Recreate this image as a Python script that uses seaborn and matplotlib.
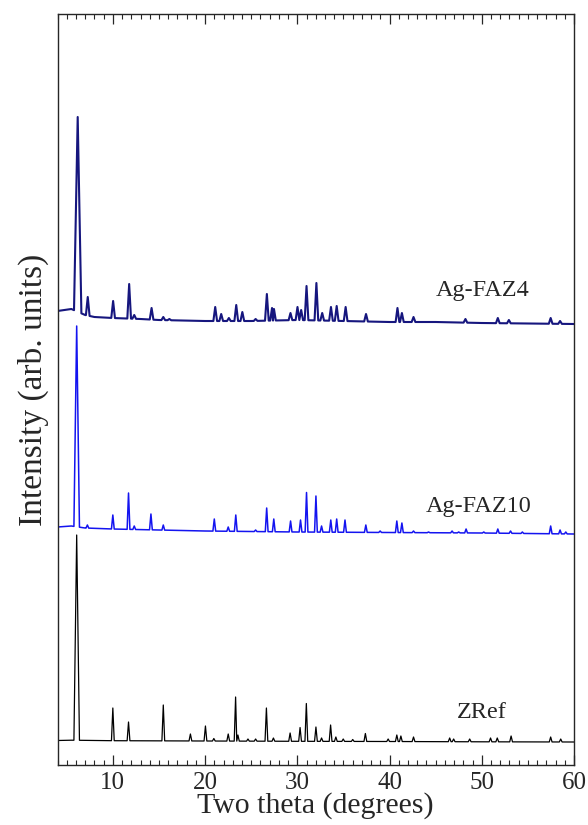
import numpy as np
import pandas as pd
import matplotlib
matplotlib.use("Agg")
import matplotlib.pyplot as plt
import seaborn as sns
from matplotlib.ticker import MultipleLocator

# peak lists: 2theta (deg), intensity (arb., absolute level of the peak top)
zref_pos = [6.08, 10.0, 11.7, 15.47, 18.41, 20.04, 20.95, 22.51, 23.31, 23.56, 24.65, 25.48,
            26.65, 27.41, 29.22, 30.3, 30.98, 32.02, 32.63, 33.61, 34.18, 34.98, 36.01, 37.38,
            39.85, 40.79, 41.23, 42.6, 46.52, 46.95, 48.69, 50.95, 51.68, 53.18, 57.47, 58.56]
zref_int = [206, 33, 19, 36, 7, 15, 2.5, 7, 44, 6, 2, 2,
            33, 3, 8, 13.5, 37.5, 14, 3, 16, 4, 2, 1.5, 7.5,
            2, 6, 5, 4, 3, 2, 2, 3, 3, 5, 4, 2]
zref_bg_x = [4, 5.5, 10, 20, 30, 40, 50, 60]
zref_bg_y = [0.5, 0.8, 0.3, 0, -0.3, -0.5, -0.8, -1]

faz10_pos = [6.08, 7.24, 10.0, 11.7, 12.32, 14.13, 15.47, 21.0, 22.51, 23.33, 25.48, 26.68,
             27.45, 29.27, 30.35, 31.0, 32.02, 32.63, 33.63, 34.27, 35.17, 37.43, 38.98, 40.79,
             41.34, 42.6, 44.23, 46.78, 47.5, 48.3, 50.22, 51.74, 53.12, 54.4, 57.47, 58.49, 59.11]
faz10_int = [208, 9, 19, 41, 8, 20, 9, 15, 7, 19, 4, 26,
             15, 13, 14, 41.5, 38, 8, 14, 15, 14, 9, 3, 13,
             11, 3, 2, 3, 2, 5, 2, 5, 3, 2, 8, 4, 2]
faz10_bg_x = [4, 5.5, 7, 10, 15, 20, 30, 40, 50, 60]
faz10_bg_y = [7, 8, 6, 5, 4, 3, 2, 1.5, 1, 0]

faz4_pos = [6.19, 7.28, 10.03, 11.77, 12.32, 14.2, 15.47, 16.13, 21.1, 21.75, 22.58, 23.38,
            24.04, 25.48, 26.7, 27.26, 27.47, 29.26, 30.02, 30.42, 31.0, 32.07, 32.7, 33.65,
            34.27, 35.24, 37.45, 40.86, 41.34, 42.6, 48.23, 51.74, 52.94, 57.47, 58.49]
faz4_int = [208, 28, 24, 41, 10, 17, 8, 6, 18, 11, 7, 20,
            13, 6, 31, 17, 16, 12, 18, 15, 39, 42, 12, 18,
            19, 18, 11, 17, 12, 8, 6, 7, 5, 7, 4]
faz4_bg_x = [4, 5.5, 7, 8, 10, 13, 15, 20, 25, 30, 35, 40, 45, 50, 55, 60]
faz4_bg_y = [14, 16, 10, 8, 7, 6, 5, 4, 4, 5, 4, 3, 3, 2, 1.5, 1]

samples = ["ZRef", "Ag-FAZ10", "Ag-FAZ4"]


def build_trace(pos, height, bg_x, bg_y, half, main_half):
    # each peak drawn as foot - top - foot on the background line
    halves = [main_half if h == max(height) else half for h in height]
    pts = []
    for i, (p, h) in enumerate(zip(pos, height)):
        left = p - halves[i]
        right = p + halves[i]
        if i > 0 and pos[i - 1] + halves[i - 1] > left:
            left = None
        if i < len(pos) - 1 and pos[i + 1] - halves[i + 1] < right:
            right = (p + pos[i + 1]) / 2
        if left is not None:
            pts.append((left, np.interp(left, bg_x, bg_y)))
        pts.append((p, h))
        pts.append((right, np.interp(right, bg_x, bg_y)))
    for bx, by in zip(bg_x, bg_y):
        inside = any(abs(bx - p) < hh for p, hh in zip(pos, halves))
        if not inside:
            pts.append((bx, by))
    pts.sort()
    return pd.DataFrame(pts, columns=["two_theta", "intensity"])


zref_df = build_trace(zref_pos, zref_int, zref_bg_x, zref_bg_y, 0.15, 0.3)
faz10_df = build_trace(faz10_pos, faz10_int, faz10_bg_x, faz10_bg_y, 0.15, 0.3)
faz4_df = build_trace(faz4_pos, faz4_int, faz4_bg_x, faz4_bg_y, 0.2, 0.4)

# vertical stacking of the patterns
zref_df["intensity"] += 24
faz10_df["intensity"] += 231
faz4_df["intensity"] += 440

sns.set_style("ticks")
plt.rcParams["font.family"] = ["Liberation Serif", "DejaVu Serif"]

fig = plt.figure(figsize=(5.88, 8.25), dpi=100)
ax = fig.add_axes([57.5 / 588, 1 - 765 / 825, (574 - 57.5) / 588, (765 - 14) / 825])

sns.lineplot(data=zref_df, x="two_theta", y="intensity", ax=ax, color="black",
             lw=0.9, estimator=None, sort=False)
sns.lineplot(data=faz10_df, x="two_theta", y="intensity", ax=ax, color="#1414f0",
             lw=1.1, estimator=None, sort=False)
sns.lineplot(data=faz4_df, x="two_theta", y="intensity", ax=ax, color="#16167e",
             lw=1.5, estimator=None, sort=False)

ax.set_xlim(4, 60)
ax.set_ylim(0, 751)

ax.text(44.96, 474.3, "Ag-FAZ4", fontsize=17.5, va="center", ha="left")
ax.text(43.95, 258.3, "Ag-FAZ10", fontsize=17.5, va="center", ha="left")
ax.text(47.32, 52, "ZRef", fontsize=17.5, va="center", ha="left")

ax.xaxis.set_major_locator(MultipleLocator(10))
ax.xaxis.set_minor_locator(MultipleLocator(1))
ax.tick_params(axis="x", which="both", direction="in", top=True, bottom=True,
               labelsize=18, pad=5)
ax.tick_params(axis="x", which="major", length=7, width=0.9)
ax.tick_params(axis="x", which="minor", length=3.5, width=0.8)
ax.tick_params(axis="y", which="both", left=False, labelleft=False)
ax.set_yticks([])
for s in ax.spines.values():
    s.set_visible(True)
    s.set_linewidth(1.0)

ax.set_xlabel("Two theta (degrees)", fontsize=21.5, labelpad=-1)
ax.set_ylabel("Intensity (arb. units)", fontsize=24, labelpad=6)

fig.savefig("out.png", dpi=100)
